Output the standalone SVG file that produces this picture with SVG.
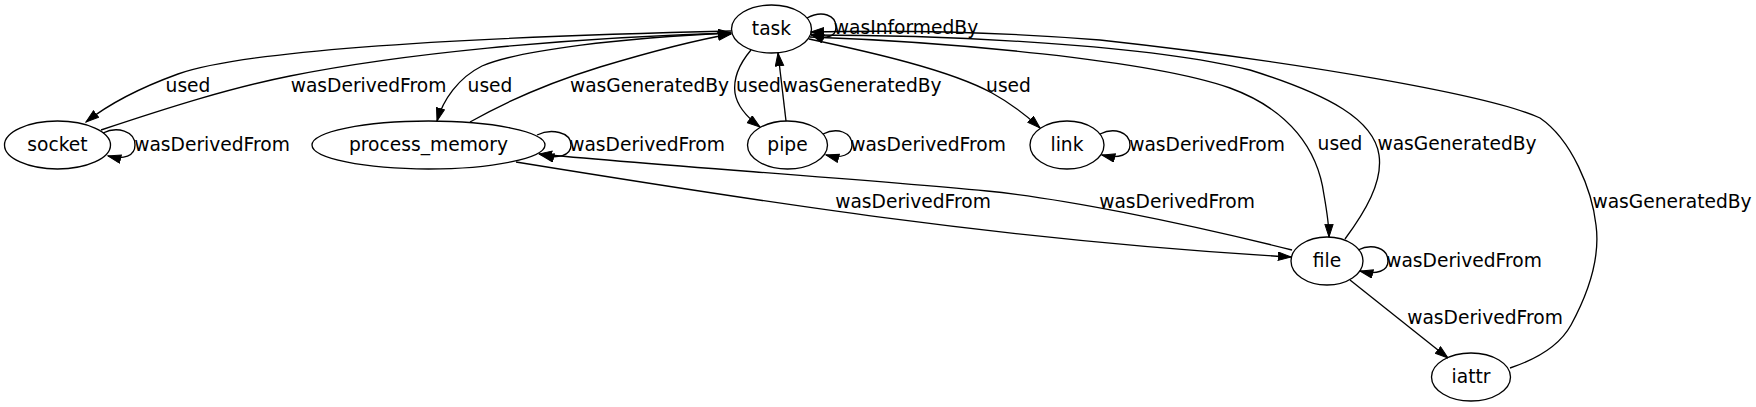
<svg xmlns="http://www.w3.org/2000/svg" width="1756" height="407" viewBox="0 0 1756 407">
<style>
.n ellipse{fill:none;stroke:#000;stroke-width:1.33}
text{font-family:"DejaVu Sans","Liberation Sans",sans-serif;font-size:18.67px;fill:#000;text-anchor:middle}
.e path{fill:none;stroke:#000;stroke-width:1.33;marker-end:url(#ah)}
</style>
<defs>
<marker id="ah" markerUnits="userSpaceOnUse" viewBox="0 0 14 10" refX="13.3" refY="4.67" markerWidth="14" markerHeight="10" orient="auto">
<path d="M0.5,0.5 L13.3,4.67 L0.5,8.83 z" fill="#000" stroke="#000" stroke-width="1"/>
</marker>
</defs>
<rect width="1756" height="407" fill="#fff"/>
<g id="connectors" class="e">
<path d="M807,18 C822,10 836,15 836,27 C836,37 826,40 811,34"/>
<text x="906" y="34">wasInformedBy</text>
<path d="M731,31 C560,35 260,45 178,74 C145,86 110,103 86,122"/>
<text x="188" y="92">used</text>
<path d="M101,130 C170,107 230,88 290,76 C400,54 560,38 731,33"/>
<text x="368.5" y="92">wasDerivedFrom</text>
<path d="M731,33 C620,38 520,50 482,66 C458,78 443,100 437,121"/>
<text x="490" y="92">used</text>
<path d="M470,122 C500,105 545,84 600,67 C650,52 690,41 731,34"/>
<text x="649.5" y="92">wasGeneratedBy</text>
<path d="M537,135 C551,128 571,132 571,145 C571,156 558,159 541,155"/>
<text x="647" y="151">wasDerivedFrom</text>
<path d="M751,50 C740,63 733,78 735,93 C737,106 748,118 760,127"/>
<text x="758.5" y="92">used</text>
<path d="M786,121 L778,53"/>
<text x="862" y="92">wasGeneratedBy</text>
<path d="M823,134 C837,127 852,132 852,145 C852,155 841,159 826,155"/>
<text x="928" y="151">wasDerivedFrom</text>
<path d="M809,39 C870,52 950,70 992,93 C1012,104 1027,116 1040,128"/>
<text x="1008.5" y="92">used</text>
<path d="M1100,134 C1114,127 1130,132 1130,145 C1130,155 1119,159 1102,155"/>
<text x="1207" y="151">wasDerivedFrom</text>
<path d="M810,37 C950,42 1150,60 1230,88 C1290,110 1318,150 1324,195 C1327,212 1329,225 1329,237"/>
<text x="1340" y="150">used</text>
<path d="M1345,239 C1365,212 1383,182 1379,155 C1374,120 1330,95 1250,70 C1150,45 950,35 811,35"/>
<text x="1457" y="150">wasGeneratedBy</text>
<path d="M1510,368 C1540,358 1560,345 1571,325 C1590,290 1600,255 1596,225 C1592,190 1572,140 1540,118 C1490,95 1300,62 1100,40 C1000,32 900,30 811,32"/>
<text x="1672" y="208">wasGeneratedBy</text>
<path d="M1358,250 C1372,243 1388,248 1388,261 C1388,271 1377,275 1360,271"/>
<text x="1464" y="267">wasDerivedFrom</text>
<path d="M1350,280 L1448,358"/>
<text x="1485" y="324">wasDerivedFrom</text>
<path d="M1292,250 C1180,222 1060,198 987,191 C850,178 650,165 539,154"/>
<text x="1177" y="208">wasDerivedFrom</text>
<path d="M516,162 C750,200 1000,240 1291,257"/>
<text x="913" y="208">wasDerivedFrom</text>
<path d="M103,133 C117,126 135,131 135,145 C135,156 124,160 108,156"/>
<text x="212" y="151">wasDerivedFrom</text>
</g>
<g id="task" class="n"><ellipse cx="771.5" cy="29" rx="40" ry="24"/><text x="771.5" y="35">task</text></g>
<g id="socket" class="n"><ellipse cx="57.5" cy="145" rx="53" ry="24"/><text x="57.5" y="151">socket</text></g>
<g id="process_memory" class="n"><ellipse cx="428.5" cy="145" rx="116.5" ry="24"/><text x="428.5" y="151">process_memory</text></g>
<g id="pipe" class="n"><ellipse cx="787.5" cy="145" rx="40" ry="24"/><text x="787.5" y="151">pipe</text></g>
<g id="link" class="n"><ellipse cx="1067" cy="145" rx="37" ry="24"/><text x="1067" y="151">link</text></g>
<g id="file" class="n"><ellipse cx="1327" cy="261" rx="36" ry="24"/><text x="1327" y="267">file</text></g>
<g id="iattr" class="n"><ellipse cx="1471" cy="377" rx="39.5" ry="24"/><text x="1471" y="383">iattr</text></g>
</svg>
